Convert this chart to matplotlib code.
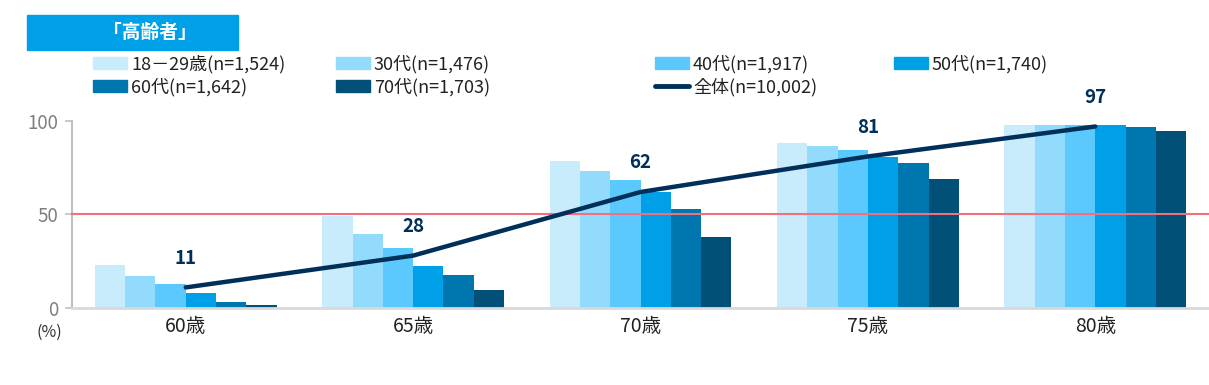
import numpy as np
import matplotlib.pyplot as plt
from matplotlib.patches import Rectangle
from matplotlib.lines import Line2D

plt.rcParams['font.family'] = ['Noto Sans CJK JP', 'DejaVu Sans']

ages = ['60歳', '65歳', '70歳', '75歳', '80歳']
groups = ['18－29歳(n=1,524)', '30代(n=1,476)', '40代(n=1,917)',
          '50代(n=1,740)', '60代(n=1,642)', '70代(n=1,703)']
vals_1829 = [23, 49, 78.5, 88, 97.7]
vals_30 = [17, 39.5, 73, 86.5, 97.7]
vals_40 = [13, 32, 68.5, 84.3, 97.7]
vals_50 = [8, 22.5, 62, 80.6, 97.7]
vals_60 = [3, 17.7, 53, 77.4, 96.6]
vals_70 = [1.6, 9.7, 38, 69, 94.5]
total = [11, 28, 62, 81, 97]
total_label = '全体(n=10,002)'

colors = ['#C9ECFC', '#93DBFD', '#5BC9FD', '#00A0E9', '#0076AE', '#005078']
line_color = '#00305A'

fig = plt.figure(figsize=(12.09, 3.85), dpi=100)
ax = fig.add_axes([0.0596, 0.2, 0.9404, 0.486])

x = np.arange(len(ages))
w = 0.8 / 6
series = [vals_1829, vals_30, vals_40, vals_50, vals_60, vals_70]
bars = []
for i, s in enumerate(series):
    b = ax.bar(x + (i - 2.5) * w, s, width=w, color=colors[i], zorder=2)
    bars.append(b)

ax.axhline(50, color='#F0707C', lw=1.5, zorder=3, clip_on=False)
ln, = ax.plot(x, total, color=line_color, lw=3.2, zorder=4, solid_capstyle='round')
for xi, v in zip(x, total):
    ax.annotate(str(v), (xi, v), xytext=(0, 21), textcoords='offset points',
                ha='center', va='center', fontsize=13.5, fontweight='bold',
                color=line_color)

ax.set_xlim(-0.5, 4.5)
ax.set_ylim(0, 100)
ax.set_yticks([0, 50, 100])
ax.set_xticks(x)
ax.set_xticklabels(ages, fontsize=14, color='#222222')
ax.tick_params(axis='x', length=0, pad=6)
ax.tick_params(axis='y', length=5, width=1.2, color='#BFBFBF', labelsize=13.5,
               labelcolor='#7F7F7F', pad=5)
for sp in ['top', 'right']:
    ax.spines[sp].set_visible(False)
ax.spines['left'].set_color('#BFBFBF')
ax.spines['left'].set_linewidth(1.5)
ax.spines['bottom'].set_color('#D9D9D9')
ax.spines['bottom'].set_linewidth(2)
ax.spines['bottom'].set_zorder(5)

fig.text(0.041, 0.138, '(%)', fontsize=11.5, color='#333333', ha='center', va='center')

# title box
fig.patches.append(Rectangle((0.0223, 0.870), 0.1746, 0.091, transform=fig.transFigure,
                             color='#00A0E9', zorder=0))
fig.text(0.124, 0.915, '「高齢者」', fontsize=13.5, fontweight='bold', color='white',
         ha='center', va='center')

# legend entries placed individually
handles = [b[0] for b in bars] + [ln]
labels = groups + [total_label]
pos = [(93, 64), (336, 64), (655, 64), (894, 64), (93, 87), (336, 87), (655, 87)]
for h, lab, (px, py) in zip(handles, labels, pos):
    if isinstance(h, Line2D):
        hh = Line2D([], [], color=line_color, lw=3.5, solid_capstyle='round')
    else:
        hh = Rectangle((0, 0), 1, 1, color=h.get_facecolor())
    fig.legend([hh], [lab], loc='center left',
               bbox_to_anchor=(px / 1209, 1 - py / 385),
               frameon=False, fontsize=13, handlelength=1.9, handleheight=0.6,
               handletextpad=0.2, borderpad=0, borderaxespad=0,
               labelcolor='#222222')

fig.savefig('out.png', dpi=100)
